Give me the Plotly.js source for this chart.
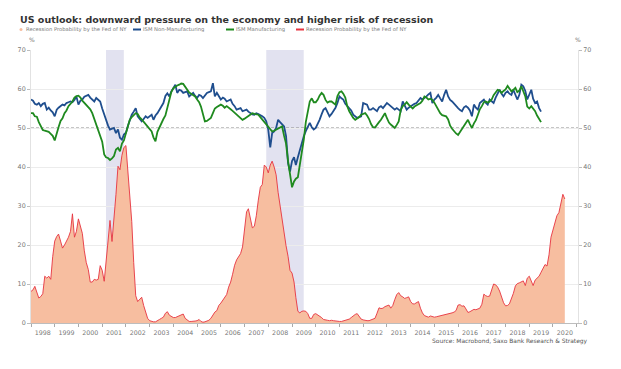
<!DOCTYPE html>
<html>
<head>
<meta charset="utf-8">
<script src="https://cdn.plot.ly/plotly-3.0.1.min.js"></script>
<style>html,body{margin:0;padding:0;background:#fff;}#chart{width:621px;height:369px;}</style>
</head>
<body>
<div id="chart"></div>
<script>
// ---------- DATA ----------
const titleText = "US outlook: downward pressure on the economy and higher risk of recession";
const sourceText = "Source: Macrobond, Saxo Bank Research & Strategy";
const seriesNames = ["Recession Probability by the Fed of NY", "ISM Non-Manufacturing", "ISM Manufacturing", "Recession Probability by the Fed of NY"];
const startYear = 1998; // monthly series start in January 1998
const recessionStarts = ["2001-03-01", "2007-12-01"];
const recessionEnds   = ["2001-11-30", "2009-06-30"];
const refLevel = 50;

// Recession probability (NY Fed), monthly Jan 1998 - Jul 2020
const recProb = [
 8.1, 8.5, 9.4, 8.0, 6.4, 6.8, 7.5, 12.0, 11.5, 12.0, 11.2, 17.0,
 21.0, 22.2, 22.8, 21.0, 19.2, 20.0, 21.0, 22.0, 23.5, 28.0, 22.0, 23.5,
 26.7, 25.0, 23.0, 18.5, 15.5, 13.7, 10.5, 10.5, 11.2, 11.0, 11.2, 14.7,
 13.5, 10.7, 16.0, 21.0, 26.3, 20.9, 26.0, 33.0, 40.2, 39.3, 43.0, 45.0,
 45.5, 38.0, 33.5, 26.0, 15.5, 7.0, 5.5, 6.0, 6.6, 4.5, 2.6, 1.2,
 0.6, 0.4, 0.3, 0.3, 0.5, 0.9, 1.2, 1.5, 2.5, 2.9, 2.0, 1.7,
 1.4, 1.4, 1.6, 1.8, 2.0, 2.3, 1.2, 0.7, 0.4, 0.4, 0.4, 0.5,
 0.6, 0.9, 0.4, 0.2, 0.3, 0.5, 0.7, 1.2, 2.0, 2.8, 3.2, 4.5,
 5.1, 5.8, 6.3, 7.3, 9.2, 10.5, 12.5, 14.8, 16.2, 17.0, 17.8, 19.5,
 24.0, 28.5, 29.3, 26.5, 24.4, 24.8, 27.5, 31.5, 34.8, 35.5, 40.5, 40.0,
 38.5, 40.5, 41.5, 40.0, 38.0, 33.5, 30.0, 26.5, 22.5, 19.8, 17.1, 13.5,
 12.8, 10.5, 6.5, 3.0, 2.6, 3.0, 3.1, 3.0, 2.4, 1.2, 1.2, 2.2,
 2.4, 2.1, 1.8, 1.4, 0.9, 0.7, 0.7, 0.6, 0.7, 0.6, 0.5, 0.4,
 0.4, 0.4, 0.5, 0.6, 0.8, 1.0, 1.4, 1.9, 2.2, 2.4, 1.8, 1.0,
 0.8, 0.6, 0.6, 0.6, 0.8, 1.0, 1.2, 2.5, 3.9, 3.7, 3.8, 4.2,
 4.4, 4.6, 3.8, 4.5, 6.0, 7.3, 7.8, 7.0, 6.7, 6.3, 6.5, 6.7,
 5.5, 4.9, 4.9, 5.3, 5.5, 3.8, 2.6, 1.9, 1.6, 1.5, 1.8, 1.7,
 1.5, 1.6, 1.7, 1.8, 1.9, 2.0, 2.1, 2.2, 2.4, 2.6, 2.8, 3.2,
 4.6, 4.7, 4.3, 4.4, 3.6, 2.7, 2.9, 3.2, 3.5, 3.4, 3.6, 3.8,
 4.8, 7.4, 7.0, 6.8, 6.9, 8.5, 10.0, 9.8, 9.2, 8.2, 6.5, 5.2,
 4.4, 4.5, 4.9, 6.2, 7.6, 9.5, 10.1, 10.3, 10.5, 10.8, 9.6, 11.5,
 12.0, 10.8, 9.6, 11.0, 11.6, 12.0, 13.0, 14.2, 15.0, 14.6, 17.5, 22.0,
 24.0, 25.3, 27.5, 28.3, 30.5, 33.0, 31.8
];

// ISM Non-Manufacturing, monthly Jan 1998 - Jul 2019
const ismNonMfg = [
 57.3, 57.0, 56.2, 56.0, 56.4, 55.6, 56.2, 56.4, 54.7, 55.2, 54.5, 54.0,
 53.0, 54.7, 55.2, 55.6, 56.0, 55.8, 56.4, 56.6, 56.8, 56.6, 57.2, 58.1,
 56.0, 57.0, 57.3, 58.0, 58.3, 58.5, 57.8, 57.3, 56.8, 57.7, 57.2, 56.8,
 55.0, 53.5, 51.9, 50.6, 49.6, 49.8, 50.0, 48.7, 49.6, 47.5, 47.0, 48.3,
 48.8, 50.6, 52.1, 53.4, 54.2, 55.1, 53.0, 52.2, 51.7, 52.3, 53.0, 52.6,
 53.0, 53.4, 52.1, 53.2, 53.8, 54.7, 55.4, 56.4, 58.2, 58.9, 58.1, 59.4,
 60.2, 61.1, 59.0, 59.8, 59.6, 59.0, 59.2, 59.4, 58.1, 58.6, 59.0, 58.2,
 57.7, 58.5, 58.3, 57.7, 58.3, 59.0, 59.2, 59.4, 61.5, 58.1, 59.0, 58.2,
 57.3, 57.8, 57.5, 56.8, 57.0, 57.3, 56.2, 55.6, 54.7, 54.9, 55.1, 54.3,
 54.5, 54.7, 54.2, 53.8, 53.5, 53.4, 53.8, 53.6, 53.4, 53.0, 52.6, 51.7,
 49.6, 45.0, 48.7, 49.1, 50.0, 52.1, 51.5, 50.9, 50.4, 47.9, 41.0, 38.8,
 41.5, 42.5, 40.5, 42.5, 44.4, 46.5, 47.9, 49.2, 50.2, 51.3, 50.2, 49.6,
 50.0, 51.0, 52.1, 53.5, 54.7, 55.1, 54.2, 53.0, 53.6, 54.3, 55.2, 56.4,
 58.1, 57.6, 57.3, 56.2, 55.6, 55.0, 54.5, 53.4, 53.0, 52.6, 52.8, 53.0,
 56.4, 56.2, 56.0, 54.7, 54.7, 55.1, 54.6, 54.3, 55.3, 55.6, 55.1, 55.8,
 56.4, 56.0, 55.6, 55.0, 54.7, 55.1, 54.8, 54.3, 56.8, 55.6, 54.7, 55.2,
 55.6, 56.0, 56.2, 56.4, 57.0, 57.7, 57.3, 57.6, 58.1, 58.6, 59.0, 56.4,
 57.3, 57.8, 58.5, 57.6, 56.8, 58.5, 59.8, 58.1, 57.2, 56.8, 56.2, 55.5,
 55.1, 54.6, 54.3, 55.3, 55.6, 55.2, 54.5, 53.0, 56.0, 55.2, 54.7, 56.4,
 56.8, 57.3, 56.5, 56.0, 57.3, 56.8, 56.4, 57.8, 59.0, 59.8, 58.8, 58.1,
 59.0, 59.4, 58.8, 58.5, 59.8, 58.5, 57.3, 58.5, 61.1, 60.7, 59.5, 57.3,
 58.5, 59.8, 57.5, 56.4, 56.8, 55.1, 54.2
];

// ISM Manufacturing, monthly Jan 1998 - Jul 2019
const ismMfg = [
 53.8, 53.8, 53.0, 52.9, 51.5, 50.5, 49.5, 49.3, 49.1, 49.0, 48.5, 48.0,
 46.8, 49.0, 50.2, 51.8, 52.5, 53.8, 54.5, 55.6, 56.2, 56.8, 57.8, 58.2,
 58.3, 57.8, 57.0, 56.5, 55.8, 55.5, 54.8, 53.8, 52.3, 50.8, 49.1, 47.6,
 46.5, 43.2, 42.5, 42.3, 41.8, 42.2, 42.8, 44.5, 44.9, 44.0, 46.0, 46.8,
 48.5, 50.2, 52.1, 52.8, 53.4, 53.8, 53.6, 52.7, 52.2, 51.6, 51.2, 50.6,
 50.0, 49.1, 47.6, 46.6, 49.0, 50.2, 51.3, 52.3, 53.2, 55.0, 57.3, 59.2,
 60.2, 60.7, 60.9, 61.1, 61.4, 61.3, 60.5, 59.8, 59.1, 58.8, 58.5, 58.1,
 57.3, 56.6, 55.5, 53.5, 51.7, 51.8, 52.3, 52.6, 53.8, 55.0, 55.4, 55.8,
 56.0, 55.7, 55.2, 55.6, 55.3, 54.8, 54.4, 53.9, 53.4, 52.9, 52.4, 52.1,
 52.4, 52.8, 53.0, 53.5, 53.8, 53.6, 53.4, 53.4, 52.8, 52.2, 51.5, 50.8,
 50.4, 49.6, 49.1, 49.3, 49.6, 50.0, 50.2, 50.4, 48.0, 46.0, 41.5, 37.5,
 34.8, 36.3, 37.0, 37.4, 40.5, 43.5, 47.0, 51.5, 54.5, 56.8, 57.6, 56.6,
 56.6, 57.3, 58.3, 59.0, 58.5, 57.2, 56.5, 56.8, 56.8, 56.3, 56.0, 58.2,
 59.2, 59.4, 58.8, 57.8, 55.6, 54.3, 53.4, 52.6, 52.1, 52.4, 52.8, 53.4,
 53.6, 53.8, 53.2, 52.3, 51.0, 50.2, 50.1, 50.9, 51.5, 52.1, 53.0, 53.8,
 52.5, 51.4, 50.9, 50.3, 50.0, 50.8, 51.7, 54.6, 55.6, 56.0, 56.6, 56.0,
 55.6, 55.0, 55.5, 55.8, 56.2, 56.4, 57.0, 58.1, 57.8, 57.3, 57.5, 57.2,
 56.5, 55.5, 54.7, 53.8, 53.3, 53.1, 53.0, 52.2, 50.6, 49.8, 49.1, 48.6,
 48.2, 49.0, 50.0, 50.8, 51.4, 52.1, 51.0, 50.0, 51.2, 52.0, 53.4, 54.8,
 55.6, 56.6, 56.8, 56.5, 56.8, 57.3, 58.4, 59.2, 59.8, 59.6, 59.0, 59.5,
 59.9, 60.8, 60.2, 59.4, 59.8, 60.3, 59.2, 59.6, 60.7, 59.5, 58.1, 55.5,
 55.0, 55.6, 55.0, 54.3, 53.2, 52.3, 51.5
];

// ---------- helpers ----------
function monthDates(n) {
  const out = [];
  for (let i = 0; i < n; i++) {
    const y = startYear + Math.floor(i / 12);
    const m = (i % 12) + 1;
    out.push(y + "-" + (m < 10 ? "0" + m : m) + "-01");
  }
  return out;
}

// layout geometry (pixels)
const W = 621, H = 369;
const M = {l: 31, r: 43, t: 50, b: 46};
const PW = W - M.l - M.r, PH = H - M.t - M.b;
const px = v => (v - M.l) / PW;          // pixel x -> paper x
const py = v => (H - M.b - v) / PH;      // pixel y -> paper y

const FONT = "DejaVu Sans, Verdana, sans-serif";
const cFill = "#f7bea0", cRed = "#e6333f", cBlue = "#1f4e8e", cGreen = "#1f8a1f";

const traces = [
  {x: monthDates(recProb.length), y: recProb, type: "scatter", mode: "lines",
   fill: "tozeroy", fillcolor: cFill, line: {width: 0, color: cFill}, name: seriesNames[0], hoverinfo: "skip"},
  {x: monthDates(ismNonMfg.length), y: ismNonMfg, type: "scatter", mode: "lines",
   line: {width: 1.8, color: cBlue}, name: seriesNames[1]},
  {x: monthDates(ismMfg.length), y: ismMfg, type: "scatter", mode: "lines",
   line: {width: 1.8, color: cGreen}, name: seriesNames[2]},
  {x: monthDates(recProb.length), y: recProb, type: "scatter", mode: "lines",
   line: {width: 0.9, color: cRed}, name: seriesNames[3]},
  {x: [], y: [], yaxis: "y2", type: "scatter", showlegend: false}
];

const shapes = [];
for (let i = 0; i < recessionStarts.length; i++) {
  shapes.push({type: "rect", xref: "x", yref: "paper", x0: recessionStarts[i], x1: recessionEnds[i],
    y0: 0, y1: 1, fillcolor: "#e2e2f0", line: {width: 0}, layer: "below"});
}
shapes.push({type: "line", xref: "paper", yref: "y", x0: 0, x1: px(580), y0: refLevel, y1: refLevel,
  line: {color: "#8a8a8a", width: 1, dash: "3px,2px"}, layer: "between"});

// legend (manual, compact)
const legY = py(29.5);
shapes.push({type: "circle", xref: "paper", yref: "paper", x0: px(19.5), x1: px(22.5), y0: py(31), y1: py(28),
  fillcolor: cFill, line: {width: 0}});
const legLines = [[133, 141, cBlue], [226, 234, cGreen], [296, 304, cRed]];
legLines.forEach(l => shapes.push({type: "line", xref: "paper", yref: "paper", x0: px(l[0]), x1: px(l[1]),
  y0: legY, y1: legY, line: {color: l[2], width: 2}}));
const legTextX = [24.5, 142, 235, 305];

const annotations = [];
seriesNames.forEach((n, i) => annotations.push({xref: "paper", yref: "paper", x: px(legTextX[i]), y: legY,
  xanchor: "left", yanchor: "middle", text: n, showarrow: false, borderpad: 0,
  font: {family: FONT, size: 5.25, color: "#7a7a7a"}}));
annotations.push({xref: "paper", yref: "paper", x: px(31.5), y: py(40), xanchor: "center", yanchor: "middle",
  text: "%", showarrow: false, borderpad: 0, font: {family: FONT, size: 6, color: "#777"}});
annotations.push({xref: "paper", yref: "paper", x: px(578), y: py(40), xanchor: "center", yanchor: "middle",
  text: "%", showarrow: false, borderpad: 0, font: {family: FONT, size: 6, color: "#777"}});
annotations.push({xref: "paper", yref: "paper", x: px(589), y: py(340.5), xanchor: "right", yanchor: "middle",
  text: sourceText, showarrow: false, borderpad: 0, font: {family: FONT, size: 5.95, color: "#555"}});

const yCommon = {range: [0, 70], dtick: 10, tick0: 0, ticks: "outside", ticklen: 3, tickcolor: "#bdbdbd",
  showline: true, linecolor: "#e2e2e2", linewidth: 1, zeroline: false, fixedrange: true,
  tickfont: {family: FONT, size: 6.4, color: "#777"}};

const layout = {
  width: W, height: H, margin: M, paper_bgcolor: "#fff", plot_bgcolor: "#fff", showlegend: false,
  title: {text: titleText, xref: "container", yref: "container", x: 20 / W, xanchor: "left",
    y: 1 - 19.5 / H, yanchor: "middle", pad: {t: 0, b: 0, l: 0, r: 0},
    font: {family: FONT, size: 9.5, weight: "bold", color: "#333"}},
  xaxis: {type: "date", range: ["1998-01-01", "2021-01-20"], tick0: "1998-01-01", dtick: "M12",
    tickformat: "%Y", ticklabelmode: "period", ticks: "outside", ticklen: 3, tickcolor: "#aaa",
    showline: true, linecolor: "#bdbdbd", showgrid: false, zeroline: false,
    tickfont: {family: FONT, size: 6.3, color: "#777"}},
  yaxis: Object.assign({}, yCommon, {showgrid: true, gridcolor: "#ececec", gridwidth: 1}),
  yaxis2: Object.assign({}, yCommon, {overlaying: "y", side: "right", showgrid: false}),
  shapes: shapes,
  annotations: annotations
};

Plotly.newPlot("chart", traces, layout, {staticPlot: true, displayModeBar: false});
</script>
</body>
</html>
